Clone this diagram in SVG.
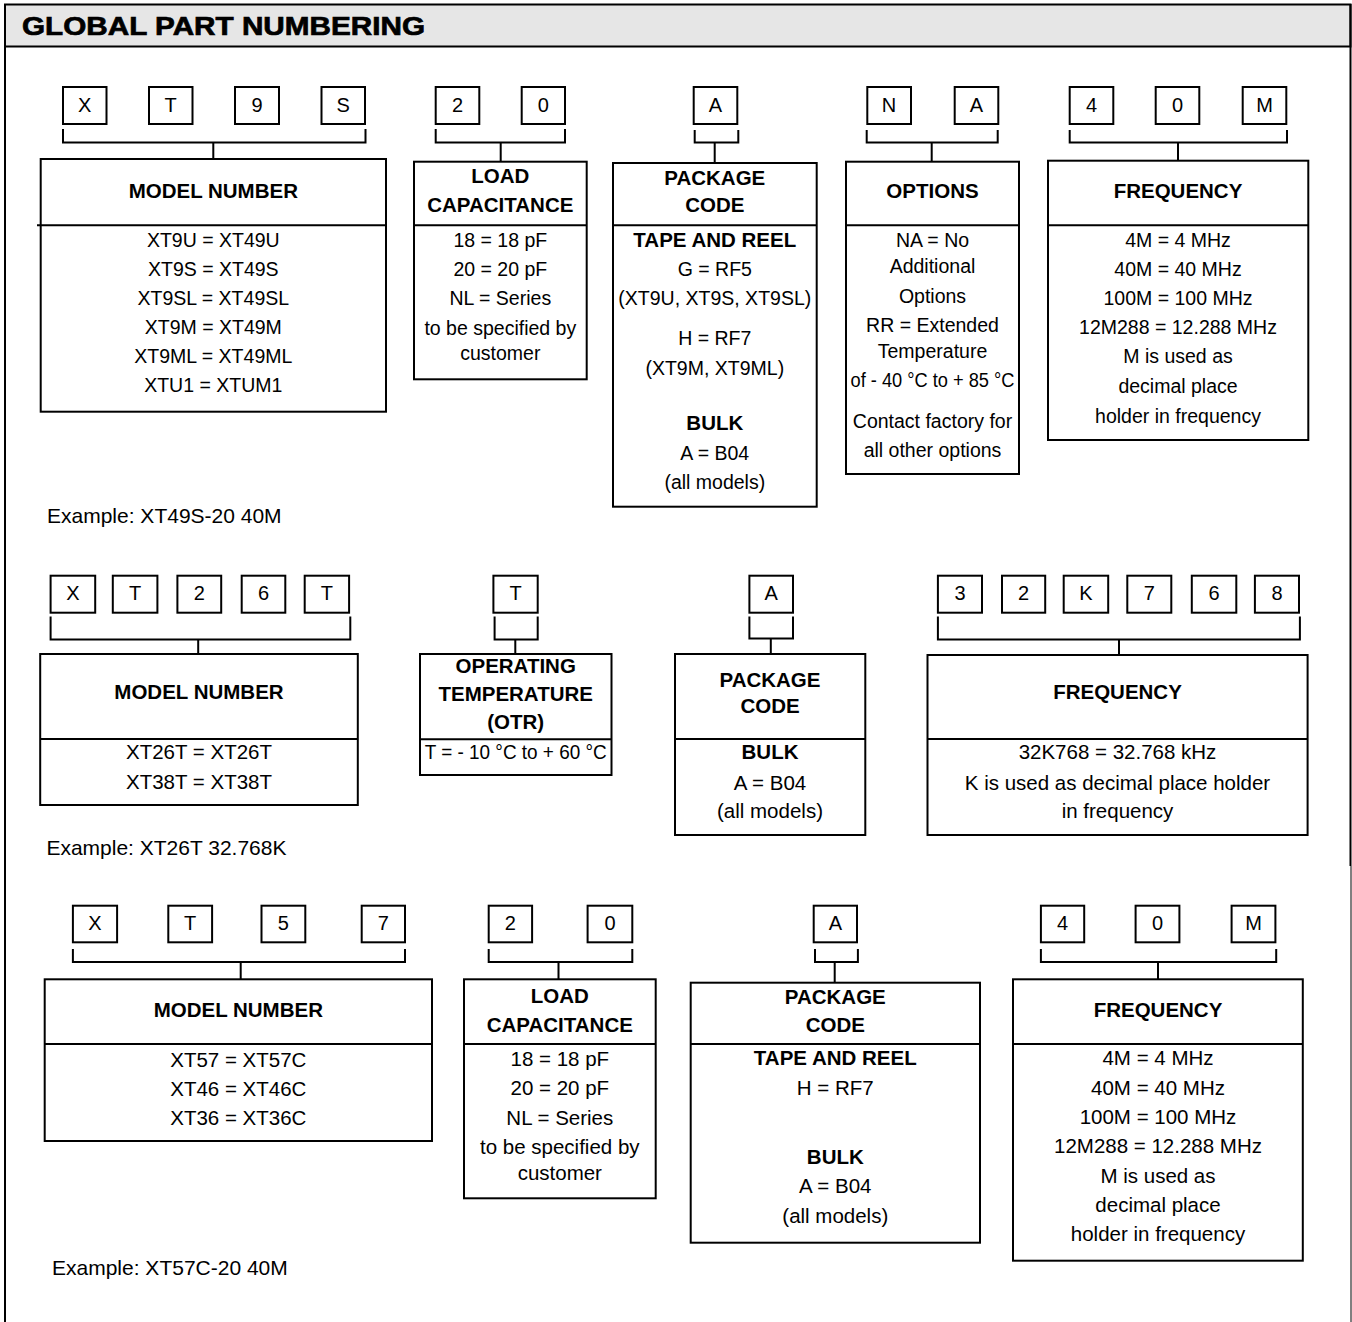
<svg xmlns="http://www.w3.org/2000/svg" width="1352" height="1322" viewBox="0 0 1352 1322">
<style>
.b{fill:none;stroke:#000;stroke-width:2}
.c{fill:none;stroke:#000;stroke-width:2}
.t{font-family:"Liberation Sans",Arial,Helvetica,sans-serif;font-size:19.5px;text-anchor:middle;fill:#000}
.r2{font-size:20.5px}
.h{font-weight:bold;font-size:20.5px}
.d{font-size:20px}
.ex{font-family:"Liberation Sans",Arial,Helvetica,sans-serif;font-size:21px;fill:#000}
</style>
<rect width="1352" height="1322" fill="#fff"/>
<g id="frame">
<rect x="5" y="4.5" width="1345.5" height="42" fill="#e6e6e6" stroke="#000" stroke-width="2"/>
<line x1="5" y1="4" x2="5" y2="1322" stroke="#000" stroke-width="2"/>
<line x1="1350.5" y1="4" x2="1350.5" y2="866" stroke="#000" stroke-width="2"/>
<line x1="1351" y1="866" x2="1351" y2="1322" stroke="#000" stroke-width="1"/>
<text x="22" y="35" font-family="Liberation Sans,Arial,sans-serif" font-weight="bold" font-size="26" stroke="#000" stroke-width="0.7" textLength="403" lengthAdjust="spacingAndGlyphs">GLOBAL PART NUMBERING</text>
</g>

<g id="connectors">
<!-- row 1 -->
<path class="c" d="M63 129V142.5H365.5V129M213.3 142.5V159"/>
<path class="c" d="M435.7 129V142.5H565V129M500.7 142.5V161.7"/>
<path class="c" d="M694.7 130V142.5H738.3V130M714.7 142.5V163"/>
<path class="c" d="M866.7 130V142.5H997.7V130M931.7 142.5V161.7"/>
<path class="c" d="M1069.7 130V142.5H1287V130M1178 142.5V160.7"/>
<!-- row 2 -->
<path class="c" d="M50.6 616.5V639.5H350.3V616.5M198.2 639.5V654"/>
<path class="c" d="M494.6 616.5V639.5H537.7V616.5M515.3 639.5V654"/>
<path class="c" d="M749.4 616.5V638.5H793V616.5M770.8 638.5V654"/>
<path class="c" d="M937.9 616.5V639.5H1299.9V616.5M1119 639.5V655"/>
<!-- row 3 -->
<path class="c" d="M72.9 949V962H405V949M240.7 962V979.3"/>
<path class="c" d="M488.7 949V962H632.3V949M558.5 962V979.3"/>
<path class="c" d="M815 949V962H857.9V949M834.7 962V982.7"/>
<path class="c" d="M1040.9 949V962H1276.2V949M1158 962V979.3"/>
</g>

<!-- ROW 1 digits -->
<g id="r1-digits">
<rect class="b" x="63" y="87" width="43.5" height="37"/><text class="t d" x="84.7" y="112">X</text>
<rect class="b" x="149" y="87" width="43.5" height="37"/><text class="t d" x="170.7" y="112">T</text>
<rect class="b" x="235" y="87" width="44" height="37"/><text class="t d" x="257" y="112">9</text>
<rect class="b" x="321.5" y="87" width="43.5" height="37"/><text class="t d" x="343.2" y="112">S</text>
<rect class="b" x="435.7" y="87" width="43.6" height="37"/><text class="t d" x="457.5" y="112">2</text>
<rect class="b" x="521.7" y="87" width="43.3" height="37"/><text class="t d" x="543.3" y="112">0</text>
<rect class="b" x="693.7" y="87" width="43.6" height="37"/><text class="t d" x="715.5" y="112">A</text>
<rect class="b" x="867.3" y="87" width="43.7" height="37"/><text class="t d" x="889.1" y="112">N</text>
<rect class="b" x="954.7" y="87" width="43.6" height="37"/><text class="t d" x="976.5" y="112">A</text>
<rect class="b" x="1069.7" y="87" width="43.6" height="37"/><text class="t d" x="1091.5" y="112">4</text>
<rect class="b" x="1155.7" y="87" width="43.6" height="37"/><text class="t d" x="1177.5" y="112">0</text>
<rect class="b" x="1242.7" y="87" width="43.6" height="37"/><text class="t d" x="1264.5" y="112">M</text>
</g>

<g id="r1-model">
<rect class="b" x="40.7" y="159" width="345.3" height="252.7"/>
<line class="b" x1="37" y1="225.3" x2="386" y2="225.3"/>
<text class="t h" x="213.3" y="198.3">MODEL NUMBER</text>
<text class="t" x="213.3" y="246.7">XT9U = XT49U</text>
<text class="t" x="213.3" y="275.5">XT9S = XT49S</text>
<text class="t" x="213.3" y="304.5">XT9SL = XT49SL</text>
<text class="t" x="213.3" y="333.5">XT9M = XT49M</text>
<text class="t" x="213.3" y="362.7">XT9ML = XT49ML</text>
<text class="t" x="213.3" y="391.7">XTU1 = XTUM1</text>
</g>

<g id="r1-load">
<rect class="b" x="414" y="161.7" width="172.7" height="217.6"/>
<line class="b" x1="414" y1="225.3" x2="586.7" y2="225.3"/>
<text class="t h" x="500.3" y="183.3">LOAD</text>
<text class="t h" x="500.3" y="211.7">CAPACITANCE</text>
<text class="t" x="500.3" y="246.7">18 = 18 pF</text>
<text class="t" x="500.3" y="275.5">20 = 20 pF</text>
<text class="t" x="500.3" y="304.5">NL = Series</text>
<text class="t" x="500.3" y="334.5">to be specified by</text>
<text class="t" x="500.3" y="360">customer</text>
</g>

<g id="r1-package">
<rect class="b" x="613" y="163" width="203.7" height="343.7"/>
<line class="b" x1="613" y1="225.3" x2="816.7" y2="225.3"/>
<text class="t h" x="714.8" y="185">PACKAGE</text>
<text class="t h" x="714.8" y="211.7">CODE</text>
<text class="t h" x="714.8" y="246.7">TAPE AND REEL</text>
<text class="t" x="714.8" y="275.5">G = RF5</text>
<text class="t" x="714.8" y="305">(XT9U, XT9S, XT9SL)</text>
<text class="t" x="714.8" y="345">H = RF7</text>
<text class="t" x="714.8" y="375">(XT9M, XT9ML)</text>
<text class="t h" x="714.8" y="430">BULK</text>
<text class="t" x="714.8" y="460">A = B04</text>
<text class="t" x="714.8" y="488.5">(all models)</text>
</g>

<g id="r1-options">
<rect class="b" x="846" y="161.7" width="173" height="312.3"/>
<line class="b" x1="846" y1="225.3" x2="1019" y2="225.3"/>
<text class="t h" x="932.5" y="198.3">OPTIONS</text>
<text class="t" x="932.5" y="246.7">NA = No</text>
<text class="t" x="932.5" y="272.7">Additional</text>
<text class="t" x="932.5" y="302.7">Options</text>
<text class="t" x="932.5" y="331.7">RR = Extended</text>
<text class="t" x="932.5" y="358.3">Temperature</text>
<text class="t" x="932.5" y="387.3" textLength="164" lengthAdjust="spacingAndGlyphs">of - 40 °C to + 85 °C</text>
<text class="t" x="932.5" y="428.3">Contact factory for</text>
<text class="t" x="932.5" y="456.7">all other options</text>
</g>

<g id="r1-frequency">
<rect class="b" x="1048" y="160.7" width="260.3" height="279.3"/>
<line class="b" x1="1048" y1="225.3" x2="1308.3" y2="225.3"/>
<text class="t h" x="1178" y="198.3">FREQUENCY</text>
<text class="t" x="1178" y="246.7">4M = 4 MHz</text>
<text class="t" x="1178" y="275.5">40M = 40 MHz</text>
<text class="t" x="1178" y="304.5">100M = 100 MHz</text>
<text class="t" x="1178" y="334">12M288 = 12.288 MHz</text>
<text class="t" x="1178" y="363.3">M is used as</text>
<text class="t" x="1178" y="392.7">decimal place</text>
<text class="t" x="1178" y="422.7">holder in frequency</text>
</g>

<text class="ex" x="47" y="523">Example: XT49S-20 40M</text>

<!-- ROW 2 digits -->
<g id="r2-digits">
<rect class="b" x="50.6" y="575.7" width="44.6" height="37"/><text class="t d" x="72.9" y="600">X</text>
<rect class="b" x="112.8" y="575.7" width="44.6" height="37"/><text class="t d" x="135.1" y="600">T</text>
<rect class="b" x="177.4" y="575.7" width="43.8" height="37"/><text class="t d" x="199.3" y="600">2</text>
<rect class="b" x="241.7" y="575.7" width="43.6" height="37"/><text class="t d" x="263.5" y="600">6</text>
<rect class="b" x="304.7" y="575.7" width="44.4" height="37"/><text class="t d" x="326.9" y="600">T</text>
<rect class="b" x="493.4" y="575.7" width="44.3" height="37"/><text class="t d" x="515.5" y="600">T</text>
<rect class="b" x="749.4" y="575.7" width="43.6" height="37"/><text class="t d" x="771.2" y="600">A</text>
<rect class="b" x="937.9" y="575.7" width="44.1" height="37"/><text class="t d" x="960" y="600">3</text>
<rect class="b" x="1002" y="575.7" width="43.2" height="37"/><text class="t d" x="1023.6" y="600">2</text>
<rect class="b" x="1063.7" y="575.7" width="44.5" height="37"/><text class="t d" x="1086" y="600">K</text>
<rect class="b" x="1127.3" y="575.7" width="44" height="37"/><text class="t d" x="1149.3" y="600">7</text>
<rect class="b" x="1191.8" y="575.7" width="44.5" height="37"/><text class="t d" x="1214" y="600">6</text>
<rect class="b" x="1254.9" y="575.7" width="44.1" height="37"/><text class="t d" x="1277" y="600">8</text>
</g>

<g id="r2-model">
<rect class="b" x="40.2" y="654" width="317.6" height="151"/>
<line class="b" x1="40.2" y1="739" x2="357.8" y2="739"/>
<text class="t h" x="199" y="699.3">MODEL NUMBER</text>
<text class="t r2" x="199" y="759.3">XT26T = XT26T</text>
<text class="t r2" x="199" y="789.3">XT38T = XT38T</text>
</g>

<g id="r2-otr">
<rect class="b" x="420" y="654" width="191.5" height="121"/>
<line class="b" x1="420" y1="739.3" x2="611.5" y2="739.3"/>
<text class="t h" x="515.7" y="673.3">OPERATING</text>
<text class="t h" x="515.7" y="700.7">TEMPERATURE</text>
<text class="t h" x="515.7" y="729.3">(OTR)</text>
<text class="t" x="515.7" y="759" textLength="182" lengthAdjust="spacingAndGlyphs">T = - 10 °C to + 60 °C</text>
</g>

<g id="r2-package">
<rect class="b" x="675" y="654" width="190.3" height="181"/>
<line class="b" x1="675" y1="739" x2="865.3" y2="739"/>
<text class="t h" x="770" y="686.7">PACKAGE</text>
<text class="t h" x="770" y="713.3">CODE</text>
<text class="t h" x="770" y="759.3">BULK</text>
<text class="t r2" x="770" y="790">A = B04</text>
<text class="t r2" x="770" y="818.3">(all models)</text>
</g>

<g id="r2-frequency">
<rect class="b" x="927.5" y="655" width="380.1" height="180"/>
<line class="b" x1="927.5" y1="739" x2="1307.6" y2="739"/>
<text class="t h" x="1117.5" y="699.3">FREQUENCY</text>
<text class="t r2" x="1117.5" y="759.3">32K768 = 32.768 kHz</text>
<text class="t r2" x="1117.5" y="790">K is used as decimal place holder</text>
<text class="t r2" x="1117.5" y="818.3">in frequency</text>
</g>

<text class="ex" x="46.4" y="855">Example: XT26T 32.768K</text>

<!-- ROW 3 digits -->
<g id="r3-digits">
<rect class="b" x="72.9" y="905.7" width="44.2" height="36.6"/><text class="t d" x="95" y="930">X</text>
<rect class="b" x="168.3" y="905.7" width="43.8" height="36.6"/><text class="t d" x="190.2" y="930">T</text>
<rect class="b" x="261.5" y="905.7" width="43.8" height="36.6"/><text class="t d" x="283.4" y="930">5</text>
<rect class="b" x="361.7" y="905.7" width="43.3" height="36.6"/><text class="t d" x="383.3" y="930">7</text>
<rect class="b" x="488.7" y="905.7" width="43.4" height="36.6"/><text class="t d" x="510.4" y="930">2</text>
<rect class="b" x="587.6" y="905.7" width="44.7" height="36.6"/><text class="t d" x="610" y="930">0</text>
<rect class="b" x="813.7" y="905.7" width="43.3" height="36.6"/><text class="t d" x="835.3" y="930">A</text>
<rect class="b" x="1040.9" y="905.7" width="43.3" height="36.6"/><text class="t d" x="1062.5" y="930">4</text>
<rect class="b" x="1135.6" y="905.7" width="43.8" height="36.6"/><text class="t d" x="1157.5" y="930">0</text>
<rect class="b" x="1231.6" y="905.7" width="43.8" height="36.6"/><text class="t d" x="1253.5" y="930">M</text>
</g>

<g id="r3-model">
<rect class="b" x="44.7" y="979.3" width="387.3" height="161.7"/>
<line class="b" x1="44.7" y1="1044" x2="432" y2="1044"/>
<text class="t h" x="238.3" y="1016.7">MODEL NUMBER</text>
<text class="t r2" x="238.3" y="1066.7">XT57 = XT57C</text>
<text class="t r2" x="238.3" y="1096">XT46 = XT46C</text>
<text class="t r2" x="238.3" y="1125">XT36 = XT36C</text>
</g>

<g id="r3-load">
<rect class="b" x="464" y="979.3" width="191.7" height="219"/>
<line class="b" x1="464" y1="1044" x2="655.7" y2="1044"/>
<text class="t h" x="559.8" y="1002.7">LOAD</text>
<text class="t h" x="559.8" y="1031.7">CAPACITANCE</text>
<text class="t r2" x="559.8" y="1066">18 = 18 pF</text>
<text class="t r2" x="559.8" y="1095">20 = 20 pF</text>
<text class="t r2" x="559.8" y="1125">NL = Series</text>
<text class="t r2" x="559.8" y="1154">to be specified by</text>
<text class="t r2" x="559.8" y="1180">customer</text>
</g>

<g id="r3-package">
<rect class="b" x="690.7" y="982.7" width="289.3" height="260"/>
<line class="b" x1="690.7" y1="1044" x2="980" y2="1044"/>
<text class="t h" x="835.3" y="1004">PACKAGE</text>
<text class="t h" x="835.3" y="1031.7">CODE</text>
<text class="t h" x="835.3" y="1065">TAPE AND REEL</text>
<text class="t r2" x="835.3" y="1095">H = RF7</text>
<text class="t h" x="835.3" y="1164">BULK</text>
<text class="t r2" x="835.3" y="1193.3">A = B04</text>
<text class="t r2" x="835.3" y="1223.3">(all models)</text>
</g>

<g id="r3-frequency">
<rect class="b" x="1013" y="979.3" width="289.8" height="281.4"/>
<line class="b" x1="1013" y1="1044" x2="1302.8" y2="1044"/>
<text class="t h" x="1158" y="1016.7">FREQUENCY</text>
<text class="t r2" x="1158" y="1065">4M = 4 MHz</text>
<text class="t r2" x="1158" y="1095">40M = 40 MHz</text>
<text class="t r2" x="1158" y="1124.3">100M = 100 MHz</text>
<text class="t r2" x="1158" y="1153.3">12M288 = 12.288 MHz</text>
<text class="t r2" x="1158" y="1182.7">M is used as</text>
<text class="t r2" x="1158" y="1211.7">decimal place</text>
<text class="t r2" x="1158" y="1240.7">holder in frequency</text>
</g>

<text class="ex" x="52" y="1275">Example: XT57C-20 40M</text>
</svg>
